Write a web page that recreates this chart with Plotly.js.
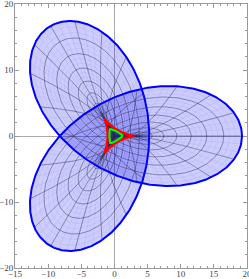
<!DOCTYPE html>
<html><head><meta charset="utf-8">
<script src="https://cdn.plot.ly/plotly-3.0.1.min.js"></script>
<style>html,body{margin:0;padding:0;background:#fff}</style>
</head><body><div id="chart" style="width:249px;height:279px"></div>
<script>
// Map of the disk: w = a·z + b·conj(z)^2  (polar parameters r, t)
const mapCoefficients = [2, 1];
const outerRadius = 3.5;      // blue boundary (image of |z| = 3.5)
const criticalRadius = 1;     // red deltoid (image of |z| = 1)
const innerRadius = 0.5;      // green curve (image of |z| = 0.5)
const radialMeshDivisions = 11;
const angularMeshDivisions = 30;
const fillSectors = 60;
const xTicks = [-15, -10, -5, 0, 5, 10, 15, 20];
const yTicks = [-20, -10, 0, 10, 20];
const xRange = [-15, 20];
const yRange = [-20, 20];

function mapPoint(r, t) {
  const a = mapCoefficients[0], b = mapCoefficients[1];
  return [a * r * Math.cos(t) + b * r * r * Math.cos(2 * t),
          a * r * Math.sin(t) - b * r * r * Math.sin(2 * t)];
}
function circle(r, n) {
  const x = [], y = [];
  for (let i = 0; i <= n; i++) { const p = mapPoint(r, 2 * Math.PI * i / n); x.push(p[0]); y.push(p[1]); }
  return {x, y};
}
function ray(t, r0, r1, n) {
  const x = [], y = [];
  for (let i = 0; i <= n; i++) { const p = mapPoint(r0 + (r1 - r0) * i / n, t); x.push(p[0]); y.push(p[1]); }
  return {x, y};
}
const traces = [];
const fillColor = 'rgba(0,0,255,0.2)';
const dc = circle(criticalRadius, 360);
traces.push({x: dc.x, y: dc.y, mode: 'lines', fill: 'toself', fillcolor: fillColor, line: {width: 0}, hoverinfo: 'skip'});
for (let j = 0; j < fillSectors; j++) {
  const t0 = 2 * Math.PI * j / fillSectors, t1 = 2 * Math.PI * (j + 1) / fillSectors;
  const x = [], y = [];
  const m = 6, n = 40;
  for (let i = 0; i <= m; i++) { const p = mapPoint(criticalRadius, t0 + (t1 - t0) * i / m); x.push(p[0]); y.push(p[1]); }
  for (let i = 1; i <= n; i++) { const p = mapPoint(criticalRadius + (outerRadius - criticalRadius) * i / n, t1); x.push(p[0]); y.push(p[1]); }
  for (let i = 1; i <= m; i++) { const p = mapPoint(outerRadius, t1 - (t1 - t0) * i / m); x.push(p[0]); y.push(p[1]); }
  for (let i = 1; i < n; i++) { const p = mapPoint(outerRadius - (outerRadius - criticalRadius) * i / n, t0); x.push(p[0]); y.push(p[1]); }
  traces.push({x, y, mode: 'lines', fill: 'toself', fillcolor: fillColor, line: {width: 0}, hoverinfo: 'skip'});
}
function gridTrace(rDiv, tDiv, color, width) {
  const x = [], y = [];
  for (let k = 1; k < rDiv; k++) {
    const c = circle(outerRadius * k / rDiv, 360);
    x.push(...c.x, null); y.push(...c.y, null);
  }
  for (let j = 0; j < tDiv; j++) {
    const c = ray(2 * Math.PI * j / tDiv, 0, outerRadius, 80);
    x.push(...c.x, null); y.push(...c.y, null);
  }
  return {x, y, mode: 'lines', line: {color, width}, hoverinfo: 'skip', connectgaps: false};
}
traces.push(gridTrace(radialMeshDivisions * 3, angularMeshDivisions * 3, 'rgba(0,0,140,0.1)', 0.5));
traces.push(gridTrace(radialMeshDivisions, angularMeshDivisions, 'rgba(40,40,70,0.5)', 0.8));
const ob = circle(outerRadius, 720);
traces.push({x: ob.x, y: ob.y, mode: 'lines', line: {color: 'rgb(0,0,255)', width: 2}, hoverinfo: 'skip'});
const cr = circle(criticalRadius, 360);
traces.push({x: cr.x, y: cr.y, mode: 'lines', line: {color: 'rgb(255,0,0)', width: 2.5}, hoverinfo: 'skip'});
const ir = circle(innerRadius, 360);
traces.push({x: ir.x, y: ir.y, mode: 'lines', line: {color: 'rgb(0,255,0)', width: 2}, hoverinfo: 'skip'});

const axisCommon = {
  ticks: 'inside', ticklen: 4, tickcolor: '#999', tickwidth: 1,
  linecolor: '#999', linewidth: 1, mirror: 'allticks', showgrid: false,
  zeroline: true, zerolinecolor: '#aaa', zerolinewidth: 1,
  tickfont: {family: 'Liberation Serif', size: 9, color: '#444'},
  ticklabeloverflow: 'allow',
  automargin: false, fixedrange: true
};
const layout = {
  width: 249, height: 279, margin: {l: 15, r: 2, t: 4, b: 11},
  paper_bgcolor: '#fff', plot_bgcolor: '#fff', showlegend: false,
  xaxis: Object.assign({}, axisCommon, {range: xRange, tickvals: xTicks, ticklabelstandoff: -3,
    minor: {dtick: 1, ticks: 'inside', ticklen: 2, tickcolor: '#999', showgrid: false}}),
  yaxis: Object.assign({}, axisCommon, {range: yRange, tickvals: yTicks, ticklabelstandoff: -1,
    minor: {dtick: 2, ticks: 'inside', ticklen: 2, tickcolor: '#999', showgrid: false}})
};
Plotly.newPlot('chart', traces, layout, {staticPlot: true, displayModeBar: false});
</script></body></html>
